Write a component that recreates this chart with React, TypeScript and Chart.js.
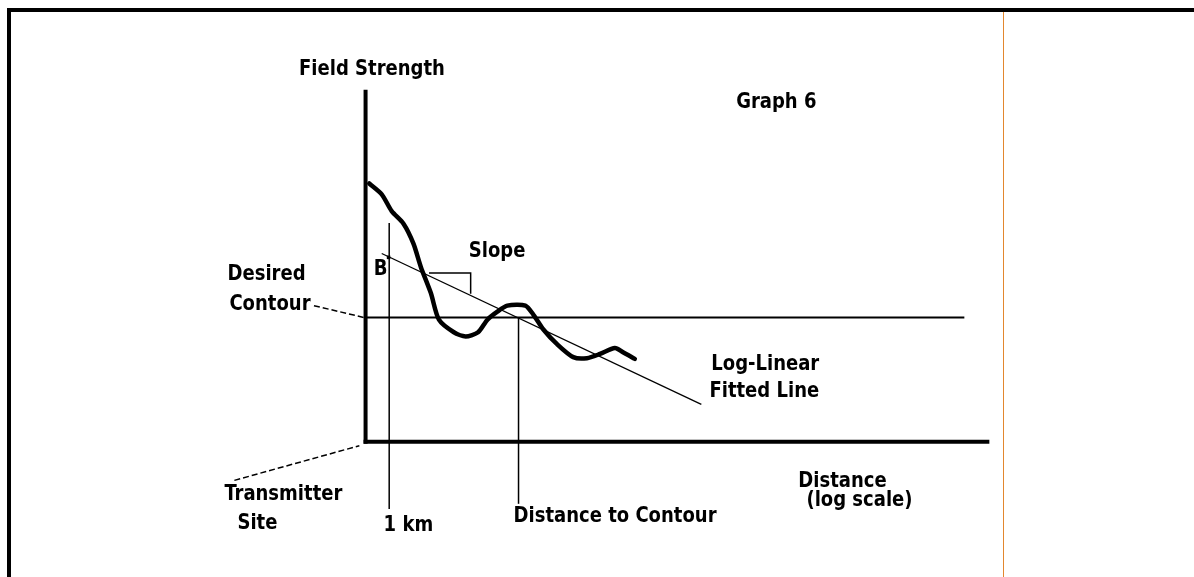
import React, { useEffect, useRef } from "react";
import { Chart, registerables } from "chart.js";

Chart.register(...registerables);

// Diagram units: x = distance (0..100 along the x axis), y = field strength (0..100 along the y axis)
const curveX = [0.6, 2.6, 4.2, 6.1, 7.7, 8.9, 10.5, 11.8, 14.2, 16.1, 18.1, 19.6, 21.2, 22.8, 25.7, 27.0, 28.6, 30.8, 33.4, 35.6, 37.7, 40.1, 41.4, 43.3];
const curveY = [73.8, 70.7, 65.9, 62.3, 56.6, 49.9, 42.5, 34.9, 31.3, 30.1, 31.3, 34.9, 37.2, 38.9, 38.9, 36.3, 32.1, 27.9, 24.2, 23.9, 25.1, 26.8, 25.6, 23.7];

const fittedX = [2.6, 54.0];
const fittedY = [53.8, 10.7];

const contourLevel = 35.5;
const contourEndX = 96.3;

const yAxisX = [0, 0];
const yAxisY = [0, 100];
const xAxisX = [0, 100];
const xAxisY = [0, 0];

const oneKmX = 3.8;
const oneKmY = [-19.2, 62.5];

const contourDistX = 24.6;
const contourDistY = [-17.7, 35.5];

const slopeX = [10.2, 16.9, 16.9];
const slopeY = [48.2, 48.2, 42.3];

const interceptB = { x: 3.7, y: 52.7 };

const contourLeaderX = [-8.3, -0.2];
const contourLeaderY = [38.9, 35.5];
const siteLeaderX = [-21.1, -1.0];
const siteLeaderY = [-11.0, -1.1];

const labelTexts = ["Field Strength", "Graph 6", "Slope", "B", "Desired", "Contour", "Log-Linear", "Fitted Line", "Distance", "(log scale)", "Transmitter", "Site", "1 km", "Distance to Contour"];
const labelX = [-10.7, 59.6, 16.6, 1.3, -22.2, -21.9, 55.6, 55.3, 69.6, 70.9, -22.7, -20.6, 2.9, 23.8];
const labelY = [106.5, 96.9, 54.5, 49.3, 47.9, 39.4, 22.3, 14.5, -11.2, -16.7, -15.1, -23.2, -23.9, -21.4];

const zip = (xs: number[], ys: number[]) => xs.map((x, i) => ({ x, y: ys[i] }));

const labelPlugin = {
  id: "diagramLabels",
  afterDatasetsDraw(chart: any) {
    const { ctx, scales } = chart;
    ctx.save();
    ctx.fillStyle = "#000";
    ctx.font = 'bold 22px "DejaVu Sans Condensed", "DejaVu Sans", sans-serif';
    ctx.textAlign = "left";
    ctx.textBaseline = "middle";
    labelTexts.forEach((t, i) => {
      ctx.save();
      ctx.translate(scales.x.getPixelForValue(labelX[i]), scales.y.getPixelForValue(labelY[i]));
      ctx.scale(0.91, 1);
      ctx.fillText(t, 0, 0);
      ctx.restore();
    });
    ctx.restore();
  },
};

export default function App() {
  const ref = useRef<HTMLCanvasElement>(null);

  useEffect(() => {
    if (!ref.current) return;
    const line = (data: any[], width: number, extra: any = {}) => ({
      data,
      showLine: true,
      borderColor: "#000",
      backgroundColor: "#000",
      borderWidth: width,
      pointRadius: 0,
      tension: 0,
      ...extra,
    });
    const chart = new Chart(ref.current, {
      type: "scatter",
      data: {
        datasets: [
          line(zip(yAxisX, yAxisY), 4, { borderCapStyle: "square" }),
          line(zip(xAxisX, xAxisY), 4, { borderCapStyle: "square" }),
          line([{ x: 0, y: contourLevel }, { x: contourEndX, y: contourLevel }], 2),
          line(zip([oneKmX, oneKmX], oneKmY), 1.5),
          line(zip([contourDistX, contourDistX], contourDistY), 1.5),
          line(zip(fittedX, fittedY), 1.3),
          line(zip(slopeX, slopeY), 1.5),
          line(zip(contourLeaderX, contourLeaderY), 1.5, { borderDash: [6, 3] }),
          line(zip(siteLeaderX, siteLeaderY), 1.5, { borderDash: [6, 3] }),
          line(zip(curveX, curveY), 4.5, { tension: 0.25, borderCapStyle: "round", borderJoinStyle: "round" }),
          { data: [interceptB], showLine: false, pointStyle: "rect", pointRadius: 2.5, backgroundColor: "#000", borderColor: "#000", borderWidth: 0 },
        ],
      },
      options: {
        animation: false,
        responsive: false,
        events: [],
        layout: { padding: 0 },
        plugins: { legend: { display: false }, tooltip: { enabled: false } },
        scales: {
          x: { type: "linear", min: -58.15, max: 132.59, display: false },
          y: { type: "linear", min: -37.46, max: 125.07, display: false },
        },
      },
      plugins: [labelPlugin],
    } as any);
    return () => chart.destroy();
  }, []);

  return (
    <div style={{ position: "fixed", left: 0, top: 0, width: 1194, height: 577, background: "#fff" }}>
      <canvas ref={ref} width={1194} height={577} style={{ position: "absolute", left: 0, top: 0 }} />
      <div style={{ position: "absolute", left: 7, top: 8, width: 1187, height: 4, background: "#000" }} />
      <div style={{ position: "absolute", left: 7, top: 8, width: 4, height: 569, background: "#000" }} />
      <div style={{ position: "absolute", left: 1003, top: 12, width: 1, height: 565, background: "#e3872e" }} />
    </div>
  );
}
